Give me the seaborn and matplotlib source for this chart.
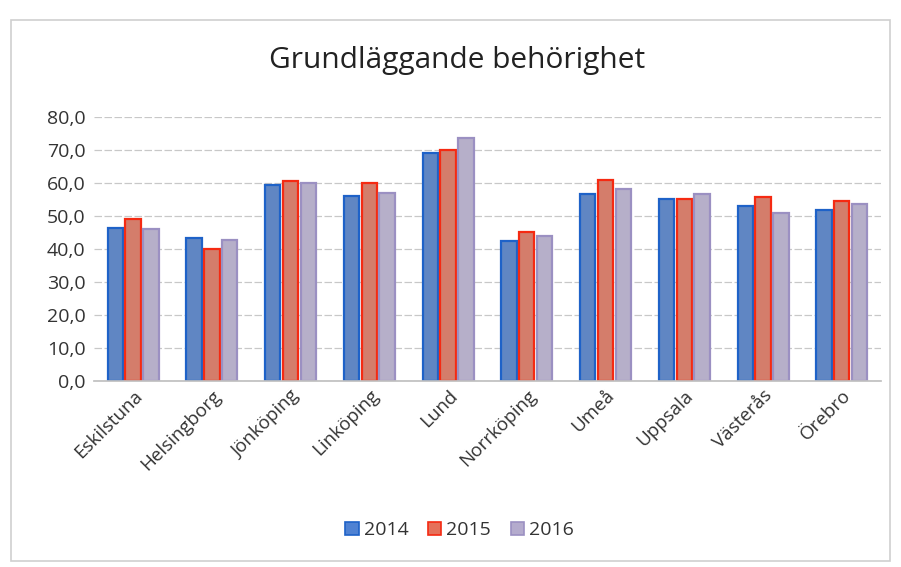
import numpy as np
import pandas as pd
import matplotlib
matplotlib.use("Agg")
import matplotlib.pyplot as plt
import seaborn as sns
from matplotlib.patches import Rectangle
from matplotlib.ticker import FuncFormatter

# values
cities = ['Eskilstuna', 'Helsingborg', 'Jönköping', 'Linköping', 'Lund',
          'Norrköping', 'Umeå', 'Uppsala', 'Västerås', 'Örebro']
years = ['2014', '2015', '2016']
v2014 = [46.4, 43.4, 59.3, 56.0, 69.0, 42.5, 56.6, 55.2, 53.0, 51.8]
v2015 = [49.1, 40.0, 60.6, 60.0, 70.0, 45.0, 60.8, 55.0, 55.7, 54.4]
v2016 = [46.0, 42.7, 60.0, 57.0, 73.5, 44.0, 58.0, 56.5, 51.0, 53.7]

df = pd.DataFrame({'city': cities * 3,
                   'year': np.repeat(years, len(cities)),
                   'value': v2014 + v2015 + v2016})

fills = ['#4f82d3', '#e5715a', '#b4abcd']
edges = ['#1e62c8', '#f52a12', '#9b90c2']

sns.set_theme(style='white')
plt.rcParams['font.family'] = ['Open Sans', 'DejaVu Sans']

fig = plt.figure(figsize=(9.01, 5.67), dpi=100)
ax = fig.add_axes([0.104, 0.328, 0.874, 0.466])

sns.barplot(data=df, x='city', y='value', hue='year', palette=fills,
            width=0.68, gap=0.14, ax=ax, legend=False)

# give each series its darker outline like the scan
for cont, ec in zip(ax.containers, edges):
    for bar in cont:
        bar.set_edgecolor(ec)
        bar.set_linewidth(1.6)

ax.set_ylim(0, 80)
ax.set_yticks(np.arange(0, 81, 10))
ax.yaxis.set_major_formatter(FuncFormatter(lambda v, p: '{:.1f}'.format(v).replace('.', ',')))
ax.grid(axis='y', color='#c8c8c8', linewidth=0.9, linestyle=(0, (6, 2)))
ax.set_axisbelow(True)
for s in ['top', 'right', 'left']:
    ax.spines[s].set_visible(False)
ax.spines['bottom'].set_color('#c0c0c0')
ax.set_xlabel('')
ax.set_ylabel('')
ax.tick_params(axis='y', labelsize=14, colors='#333333', length=0, pad=6)
ax.tick_params(axis='x', labelsize=13.5, colors='#333333', length=0, pad=4)
plt.setp(ax.get_xticklabels(), rotation=45, ha='right', rotation_mode='anchor')
ax.set_xlim(-0.5, len(cities) - 0.5)

fig.text(0.507, 0.893, 'Grundläggande behörighet', ha='center', va='center',
         fontsize=21.5, color='#222222')

# legend built from the same series colours
handles = [Rectangle((0, 0), 1, 1, facecolor=f, edgecolor=e, linewidth=1.2)
           for f, e in zip(fills, edges)]
fig.legend(handles, years, loc='center', bbox_to_anchor=(0.51, 0.065), ncol=3,
           frameon=False, fontsize=14, handlelength=0.7, handleheight=0.7,
           handletextpad=0.25, columnspacing=1.0, labelcolor='#333333')

# frame of the chart area
fig.patches.append(Rectangle((0.012, 0.01), 0.976, 0.955, transform=fig.transFigure,
                             fill=False, edgecolor='#cfcfcf', linewidth=1.2))

fig.savefig('out.png', dpi=100)
